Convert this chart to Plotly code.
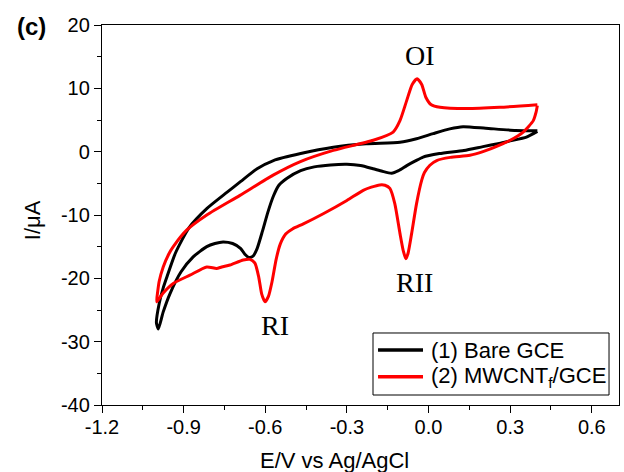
import plotly.graph_objects as go

# ---- data ----
bare_E = [0.40, 0.36, 0.30, 0.26, 0.20, 0.13, 0.04, -0.02, -0.05, -0.08, -0.11, -0.136, -0.17, -0.204,
          -0.25, -0.30, -0.36, -0.42, -0.47, -0.52, -0.55, -0.57, -0.59, -0.61, -0.63, -0.645, -0.66,
          -0.675, -0.69, -0.72, -0.755, -0.785, -0.815, -0.865, -0.91, -0.95, -0.975, -0.993,
          -1.0, -0.99, -0.975, -0.96, -0.93, -0.88, -0.815, -0.74, -0.69, -0.63, -0.57, -0.47, -0.35,
          -0.23, -0.105, -0.044, 0.017, 0.078, 0.127, 0.21, 0.32, 0.40]
bare_I = [3.2, 2.3, 1.7, 1.3, 0.8, 0.2, -0.3, -0.85, -1.5, -2.2, -3.0, -3.4, -3.1, -2.7,
          -2.2, -2.0, -2.1, -2.4, -3.0, -4.2, -5.3, -7.0, -9.5, -12.5, -15.3, -16.5, -16.7,
          -16.2, -15.3, -14.5, -14.25, -14.5, -15.0, -16.6, -19.0, -22.4, -25.3, -28.0,
          -27.0, -24.0, -21.5, -19.6, -16.0, -12.0, -9.0, -6.4, -4.7, -2.7, -1.4, -0.3, 0.7,
          1.25, 1.5, 2.05, 2.85, 3.6, 3.95, 3.7, 3.35, 3.3]

mw_E = [0.40, 0.395, 0.385, 0.348, 0.30, 0.274, 0.20, 0.152, 0.08, 0.03, 0.005, -0.015, -0.025,
        -0.044, -0.062, -0.075, -0.083, -0.092, -0.105, -0.124, -0.142, -0.16, -0.179, -0.21,
        -0.24, -0.30, -0.387, -0.46, -0.50, -0.525, -0.545, -0.56, -0.575, -0.588, -0.601, -0.613,
        -0.624, -0.638, -0.656, -0.681, -0.73, -0.76, -0.779, -0.815, -0.877, -0.938, -0.975, -0.999,
        -0.995, -0.99, -0.975, -0.955, -0.938, -0.889, -0.815, -0.693, -0.571, -0.473, -0.35,
        -0.203, -0.13, -0.105, -0.08, -0.06, -0.042, -0.025, -0.01, 0.01, 0.042, 0.14, 0.262, 0.40]
mw_I = [7.3, 6.2, 4.9, 3.1, 1.8, 1.27, 0.0, -0.58, -0.9, -1.4, -2.15, -3.3, -4.5,
        -8.2, -12.9, -16.0, -16.9, -15.8, -12.9, -8.2, -5.8, -5.3, -5.25, -5.6,
        -6.1, -7.7, -9.8, -11.4, -12.2, -13.0, -14.6, -17.0, -20.5, -22.8, -23.7, -22.5,
        -19.8, -17.6, -17.0, -17.1, -17.9, -18.2, -18.45, -18.2, -19.5, -20.8, -22.3, -23.7,
        -22.0, -20.5, -18.2, -16.2, -15.0, -12.4, -10.0, -6.9, -3.7, -1.6, 0.2,
        1.8, 3.1, 4.9, 8.1, 10.6, 11.5, 10.6, 8.6, 7.4, 7.0, 6.8, 7.0, 7.4]

series_names = ["(1) Bare GCE", "(2) MWCNT<sub>f</sub>/GCE"]
series_colors = ["#000000", "#ff0000"]

x_tick_vals = [-1.2, -0.9, -0.6, -0.3, 0.0, 0.3, 0.6]
x_tick_text = ["-1.2", "-0.9", "-0.6", "-0.3", "0.0", "0.3", "0.6"]
y_tick_vals = [20, 10, 0, -10, -20, -30, -40]
y_tick_text = ["20", "10", "0", "-10", "-20", "-30", "-40"]

peak_labels = ["OI", "RII", "RI"]
peak_E = [-0.032, -0.05, -0.564]
peak_I = [15.2, -20.6, -27.4]

SANS = "Liberation Sans, Arial"

fig = go.Figure()
for E, I, name, col in [(bare_E, bare_I, series_names[0], series_colors[0]),
                        (mw_E, mw_I, series_names[1], series_colors[1])]:
    fig.add_trace(go.Scatter(x=E, y=I, mode="lines", name=name, showlegend=False,
                             line=dict(color=col, width=3, shape="spline", smoothing=0.6)))

for t, e, i in zip(peak_labels, peak_E, peak_I):
    fig.add_annotation(x=e, y=i, xref="x", yref="y", text=t, showarrow=False,
                       font=dict(family="Liberation Serif, Times New Roman, serif", size=28, color="black"))

# axis titles and panel label
fig.add_annotation(x=0.449, y=-0.145, xref="paper", yref="paper", text="E/V vs Ag/AgCl",
                   showarrow=False, xanchor="center", yanchor="middle",
                   font=dict(family=SANS, size=22, color="black"))
fig.add_annotation(x=-0.133, y=0.487, xref="paper", yref="paper", text="I/μA", textangle=-90,
                   showarrow=False, xanchor="center", yanchor="middle",
                   font=dict(family=SANS, size=22, color="black"))
fig.add_annotation(x=-0.136, y=0.997, xref="paper", yref="paper", text="<b>(c)</b>",
                   showarrow=False, xanchor="center", yanchor="middle",
                   font=dict(family=SANS, size=24, color="black"))

# legend (drawn manually to match sample length and spacing)
fig.add_shape(type="rect", xref="paper", yref="paper", x0=0.5242, x1=0.9807, y0=0.0263, y1=0.1895,
              line=dict(color="black", width=1), fillcolor="white", layer="above")
leg_rows_y = [0.1447, 0.0745]
for name, col, ly in zip(series_names, series_colors, leg_rows_y):
    fig.add_shape(type="line", xref="paper", yref="paper", x0=0.5339, x1=0.6209, y0=ly, y1=ly,
                  line=dict(color=col, width=3.5), layer="above")
    fig.add_annotation(x=0.6325, y=ly, xref="paper", yref="paper", text=name, showarrow=False,
                       xanchor="left", yanchor="middle",
                       font=dict(family=SANS, size=22, color="black"))

axis_common = dict(showgrid=False, zeroline=False, showline=True, linecolor="black", linewidth=1.3,
                   mirror=True, ticks="outside", ticklen=7, tickwidth=1.3, tickcolor="black",
                   tickfont=dict(family=SANS, size=20, color="black"))

fig.update_xaxes(range=[-1.2, 0.7], tickmode="array", tickvals=x_tick_vals, ticktext=x_tick_text,
                 ticklabelstandoff=-3,
                 minor=dict(ticks="outside", ticklen=4, tickwidth=1, tickcolor="black",
                            tick0=-1.05, dtick=0.3, showgrid=False),
                 **axis_common)
fig.update_yaxes(range=[-40, 20], tickmode="array", tickvals=y_tick_vals, ticktext=y_tick_text,
                 minor=dict(ticks="outside", ticklen=4, tickwidth=1, tickcolor="black",
                            tick0=-35, dtick=10, showgrid=False),
                 **axis_common)

fig.update_layout(
    width=624, height=472,
    margin=dict(l=102, r=5, t=25, b=67),
    paper_bgcolor="white", plot_bgcolor="white",
    font=dict(family=SANS, color="black"),
    showlegend=False,
)

fig.write_html("out.html")
